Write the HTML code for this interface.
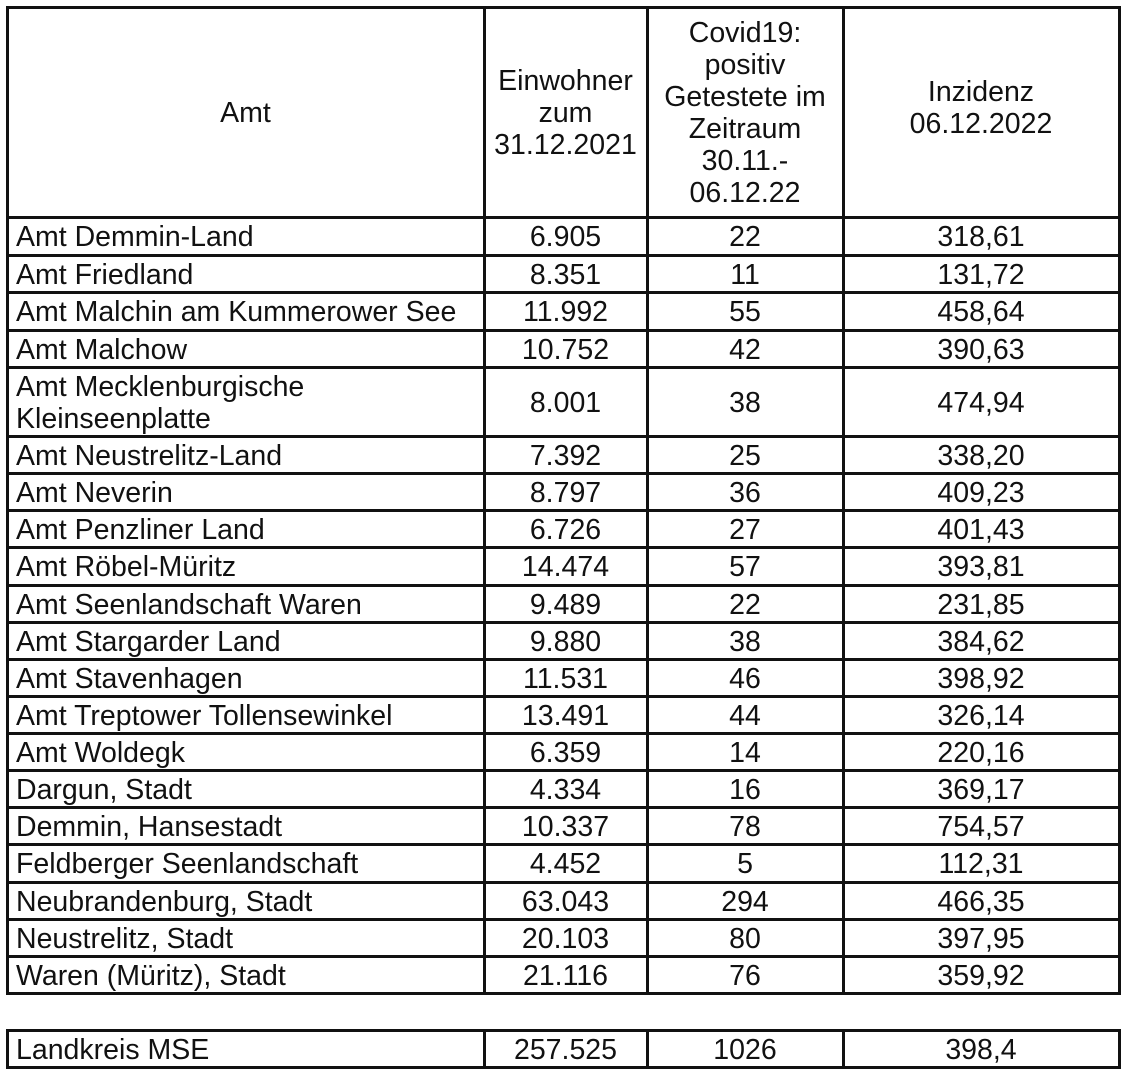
<!DOCTYPE html>
<html><head><meta charset="utf-8"><style>
body{margin:0;background:#fff;width:1130px;height:1080px;position:relative;overflow:hidden;font-family:"Liberation Sans",Arial,sans-serif;color:#111}
.h{position:absolute;left:0;height:2.5px;background:#111}
.v{position:absolute;width:2.5px;background:#111}
.c{position:absolute;display:flex;align-items:center;justify-content:center;text-align:center;font-size:28.5px;line-height:32px;padding-top:2px;box-sizing:border-box}
.l{justify-content:flex-start;padding-left:9px;text-align:left}
</style></head><body>
<div id="t"></div>
<script>
var X=[7,484,647,843,1119];
var Y=[7,217,255,292,330,367,436];
for(var i=1;i<=15;i++)Y.push(Math.round(436+i*37.13));
var rows=[
["Amt Demmin-Land","6.905","22","318,61"],
["Amt Friedland","8.351","11","131,72"],
["Amt Malchin am Kummerower See","11.992","55","458,64"],
["Amt Malchow","10.752","42","390,63"],
["Amt Mecklenburgische<br>Kleinseenplatte","8.001","38","474,94"],
["Amt Neustrelitz-Land","7.392","25","338,20"],
["Amt Neverin","8.797","36","409,23"],
["Amt Penzliner Land","6.726","27","401,43"],
["Amt Röbel-Müritz","14.474","57","393,81"],
["Amt Seenlandschaft Waren","9.489","22","231,85"],
["Amt Stargarder Land","9.880","38","384,62"],
["Amt Stavenhagen","11.531","46","398,92"],
["Amt Treptower Tollensewinkel","13.491","44","326,14"],
["Amt Woldegk","6.359","14","220,16"],
["Dargun, Stadt","4.334","16","369,17"],
["Demmin, Hansestadt","10.337","78","754,57"],
["Feldberger Seenlandschaft","4.452","5","112,31"],
["Neubrandenburg, Stadt","63.043","294","466,35"],
["Neustrelitz, Stadt","20.103","80","397,95"],
["Waren (Müritz), Stadt","21.116","76","359,92"]];
var hdr=["Amt","Einwohner<br>zum<br>31.12.2021","Covid19:<br>positiv<br>Getestete im<br>Zeitraum<br>30.11.-<br>06.12.22","Inzidenz<br>06.12.2022"];
var s="";
function cell(x0,x1,y0,y1,txt,left,top){s+='<div class="c'+(left?' l':'')+'" style="left:'+x0+'px;width:'+(x1-x0)+'px;top:'+y0+'px;height:'+(y1-y0)+'px'+(top?';padding-bottom:'+top+'px':'')+'">'+txt+'</div>';}
function hl(y,x0,x1){s+='<div class="h" style="top:'+(y-1)+'px;left:'+x0+'px;width:'+(x1-x0+2)+'px"></div>';}
function vl(x,y0,y1){s+='<div class="v" style="left:'+(x-1)+'px;top:'+y0+'px;height:'+(y1-y0+2)+'px"></div>';}
for(var k=0;k<4;k++)cell(X[k],X[k+1],Y[0],Y[1],hdr[k],false,k==3?10:0);
for(var r=0;r<20;r++)for(var k=0;k<4;k++)cell(X[k],X[k+1],Y[r+1],Y[r+2],rows[r][k],k==0);
for(var i=0;i<Y.length;i++)hl(Y[i],X[0]-1,X[4]);
for(var k=0;k<5;k++)vl(X[k],Y[0]-1,Y[Y.length-1]);
var T=[1030,1067],L=["Landkreis MSE","257.525","1026","398,4"];
for(var k=0;k<4;k++)cell(X[k],X[k+1],T[0],T[1],L[k],k==0);
hl(T[0],X[0]-1,X[4]);hl(T[1],X[0]-1,X[4]);
for(var k=0;k<5;k++)vl(X[k],T[0]-1,T[1]);
document.getElementById("t").innerHTML=s;
</script>
</body></html>
